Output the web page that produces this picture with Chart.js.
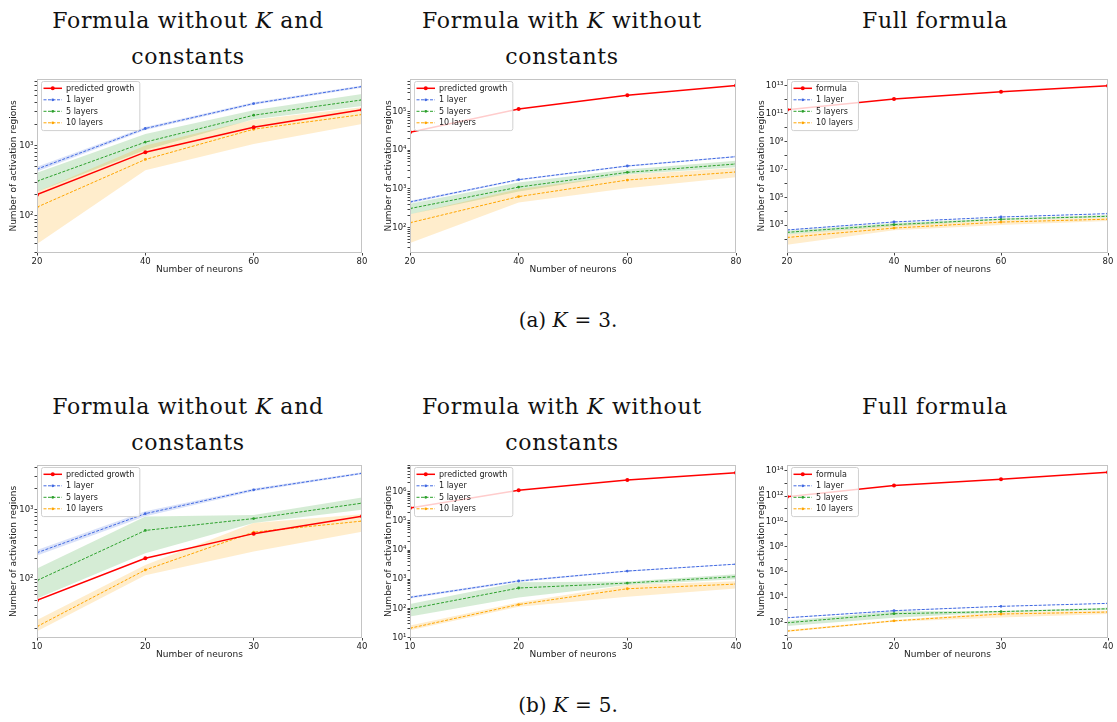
<!DOCTYPE html>
<html>
<head>
<meta charset="utf-8">
<script src="https://cdn.jsdelivr.net/npm/chart.js@4.4.1/dist/chart.umd.min.js"></script>
<style>
  html, body { margin: 0; padding: 0; background: #fff; }
  body { width: 1117px; height: 722px; position: relative; overflow: hidden; }
  .title, .caption {
    position: absolute; width: 400px; text-align: center; white-space: nowrap;
    font-family: "DejaVu Serif", serif; line-height: 36px; color: #111;
  }
  .title { font-size: 22px; letter-spacing: 0.7px; }
  .caption { font-size: 20px; }
  .caption .eq { margin: 0 7px; }
  canvas { position: absolute; }
</style>
</head>
<body>
<div class="title" style="left:-12px; top:2.7px">Formula without <i>K</i> and<br>constants</div>
<div class="title" style="left:362px; top:2.7px">Formula with <i>K</i> without<br>constants</div>
<div class="title" style="left:735px; top:2.7px">Full formula</div>
<div class="caption" style="left:368px; top:302px">(a) <i>K</i><span class="eq">=</span>3.</div>

<div class="title" style="left:-12px; top:388.7px">Formula without <i>K</i> and<br>constants</div>
<div class="title" style="left:362px; top:388.7px">Formula with <i>K</i> without<br>constants</div>
<div class="title" style="left:735px; top:388.7px">Full formula</div>
<div class="caption" style="left:368px; top:687px">(b) <i>K</i><span class="eq">=</span>5.</div>

<script>
// number of neurons
const xK3 = [20, 40, 60, 80];
const xK5 = [10, 20, 30, 40];

// K = 3, measured regions (mean, lower, upper)
const k3OneLayer = [460, 1730, 3900, 6800];
const k3OneLayerLo = [425, 1650, 3750, 6550];
const k3OneLayerHi = [495, 1810, 4060, 7050];
const k3FiveLayers = [310, 1110, 2670, 4400];
const k3FiveLayersLo = [220, 860, 2340, 3600];
const k3FiveLayersHi = [410, 1450, 3150, 5350];
const k3TenLayers = [133, 630, 1690, 2730];
const k3TenLayersLo = [40, 445, 1040, 2000];
const k3TenLayersHi = [220, 990, 2300, 3450];
// K = 3, formulas
const k3Growth = [200, 800, 1800, 3200];
const k3GrowthK = [29000, 116000, 262000, 466000];
const k3Formula = [1.9e11, 1.1e12, 3.7e12, 1.0e13];

// K = 5, measured regions
const k5OneLayer = [240, 870, 1910, 3290];
const k5OneLayerLo = [218, 800, 1820, 3180];
const k5OneLayerHi = [262, 945, 2000, 3400];
const k5FiveLayers = [96, 500, 740, 1230];
const k5FiveLayersLo = [53, 235, 640, 990];
const k5FiveLayersHi = [142, 790, 830, 1480];
const k5TenLayers = [21, 136, 473, 681];
const k5TenLayersLo = [18, 114, 250, 480];
const k5TenLayersHi = [26, 160, 640, 850];
// K = 5, formulas
const k5Growth = [50, 200, 450, 800];
const k5GrowthK = [277000, 1110000, 2500000, 4450000];
const k5Formula = [8.9e11, 6.9e12, 2.2e13, 7.8e13];

// tick labels
const xTicksK3 = [20, 40, 60, 80];
const xTicksK5 = [10, 20, 30, 40];
const yTicksA1 = [1e2, 1e3];
const yTicksA2 = [1e2, 1e3, 1e4, 1e5];
const yTicksA3 = [1e3, 1e5, 1e7, 1e9, 1e11, 1e13];
const yTicksB1 = [1e2, 1e3];
const yTicksB2 = [1e1, 1e2, 1e3, 1e4, 1e5, 1e6];
const yTicksB3 = [1e2, 1e4, 1e6, 1e8, 1e10, 1e12, 1e14];

const layerNames = ['1 layer', '5 layers', '10 layers'];

const RED = '#ff0000', BLUE = '#4169e1', GREEN = '#2ca02c', ORANGE = '#ffa500';
const FONT = '"DejaVu Sans", sans-serif';

const sup = n => String(n).split('').map(d => '⁰¹²³⁴⁵⁶⁷⁸⁹'[+d]).join('');
const pts = (xs, ys) => xs.map((x, i) => ({ x: x, y: ys[i] }));

// legend box in upper left, drawn over the data like matplotlib
const boxLegend = {
  id: 'boxLegend',
  afterDraw(chart, args, opts) {
    const ctx = chart.ctx, a = chart.chartArea;
    const items = opts.items;
    ctx.save();
    ctx.font = '8px ' + FONT;
    const textW = Math.max(...items.map(it => ctx.measureText(it.label).width));
    const x0 = a.left + 4, y0 = a.top + 2, rowH = 11.5;
    const w = 25 + textW + 5, h = 14.6 + (items.length - 1) * rowH;
    ctx.beginPath();
    ctx.roundRect(x0 + 0.5, y0 + 0.5, w, h, 2);
    ctx.fillStyle = 'rgba(255,255,255,0.8)';
    ctx.fill();
    ctx.strokeStyle = '#d0d0d0';
    ctx.lineWidth = 1;
    ctx.stroke();
    items.forEach((it, i) => {
      const y = y0 + 7.3 + i * rowH;
      ctx.strokeStyle = it.color;
      ctx.lineWidth = it.width;
      ctx.setLineDash(it.dash);
      ctx.beginPath();
      ctx.moveTo(x0 + 2.5, y);
      ctx.lineTo(x0 + 21, y);
      ctx.stroke();
      ctx.setLineDash([]);
      ctx.fillStyle = it.color;
      ctx.beginPath();
      ctx.arc(x0 + 11.75, y, it.radius, 0, Math.PI * 2);
      ctx.fill();
      ctx.fillStyle = '#222';
      ctx.textBaseline = 'middle';
      ctx.fillText(it.label, x0 + 25, y + 0.5);
    });
    ctx.restore();
  }
};

// light grey frame round the plot area
const frame = {
  id: 'frame',
  afterDatasetsDraw(chart) {
    const ctx = chart.ctx, a = chart.chartArea;
    ctx.save();
    ctx.strokeStyle = '#c4c4c4';
    ctx.lineWidth = 1;
    ctx.strokeRect(a.left + 0.5, a.top + 0.5, a.width - 1, a.height - 1);
    ctx.restore();
  }
};

function makePanel(p) {
  const padTop = 4, padRight = 8, xAxisH = 22;
  const axisW = Math.round(p.yTitleGap + 5.4);
  const [l, t, r, b] = p.box;
  const canvas = document.createElement('canvas');
  canvas.width = (r - l) + axisW + padRight;
  canvas.height = (b - t) + padTop + xAxisH;
  canvas.style.left = (l - axisW) + 'px';
  canvas.style.top = (t - padTop) + 'px';
  canvas.style.width = canvas.width + 'px';
  canvas.style.height = canvas.height + 'px';
  document.body.appendChild(canvas);

  // all ticks: labelled decades plus unlabelled minor ones
  const lo = Math.floor(Math.log10(p.yMin)), hi = Math.ceil(Math.log10(p.yMax));
  const yAll = [];
  for (let e = lo; e <= hi; e++) {
    const subs = p.decadeMinors ? [1] : [1, 2, 3, 4, 5, 6, 7, 8, 9];
    subs.forEach(s => {
      const v = s * Math.pow(10, e);
      if (v >= p.yMin && v <= p.yMax) yAll.push(v);
    });
  }
  const isLabelled = v => p.yTicks.some(m => Math.abs(Math.log10(v) - Math.log10(m)) < 1e-6);

  const band = (lo, hi, rgba) => [
    { data: pts(p.x, lo), borderWidth: 0, pointRadius: 0, fill: false, order: 10 },
    { data: pts(p.x, hi), borderWidth: 0, pointRadius: 0, fill: '-1', backgroundColor: rgba, order: 10 }
  ];
  const dashed = (ys, color, order) => ({
    data: pts(p.x, ys), borderColor: color, borderWidth: 1, borderDash: [3, 1.5],
    pointRadius: 1.4, pointBackgroundColor: color, pointBorderWidth: 0, fill: false, order: order
  });

  const datasets = [
    ...band(p.tenLo, p.tenHi, 'rgba(255,165,0,0.2)'),
    ...band(p.fiveLo, p.fiveHi, 'rgba(44,160,44,0.2)'),
    ...band(p.oneLo, p.oneHi, 'rgba(65,105,225,0.2)'),
    dashed(p.ten, ORANGE, 3),
    dashed(p.five, GREEN, 2),
    dashed(p.one, BLUE, 1),
    {
      data: pts(p.x, p.red), borderColor: RED, borderWidth: 1.5, pointRadius: 2,
      pointBackgroundColor: RED, pointBorderWidth: 0, fill: false, order: 0
    }
  ];

  new Chart(canvas, {
    type: 'line',
    data: { datasets: datasets },
    plugins: [frame, boxLegend],
    options: {
      responsive: false,
      animation: false,
      devicePixelRatio: 1,
      events: [],
      elements: { line: { tension: 0 } },
      layout: { padding: { left: 0, top: padTop, right: padRight, bottom: 0 } },
      plugins: {
        legend: { display: false },
        tooltip: { enabled: false },
        boxLegend: {
          items: [
            { label: p.redName, color: RED, width: 1.5, dash: [], radius: 2 },
            { label: layerNames[0], color: BLUE, width: 1, dash: [3, 1.5], radius: 1.4 },
            { label: layerNames[1], color: GREEN, width: 1, dash: [3, 1.5], radius: 1.4 },
            { label: layerNames[2], color: ORANGE, width: 1, dash: [3, 1.5], radius: 1.4 }
          ]
        }
      },
      scales: {
        x: {
          type: 'linear',
          min: p.xTicks[0],
          max: p.xTicks[p.xTicks.length - 1],
          bounds: 'data',
          afterBuildTicks: s => { s.ticks = p.xTicks.map(v => ({ value: v })); },
          afterFit: s => { s.height = xAxisH; s.paddingLeft = 0; s.paddingRight = 0; },
          ticks: { font: { family: FONT, size: 8.5 }, color: '#222', padding: 1, maxRotation: 0, autoSkip: false },
          grid: { drawOnChartArea: false, drawTicks: true, tickLength: 2.5, tickColor: '#444' },
          border: { display: false },
          title: { display: true, text: 'Number of neurons', font: { family: FONT, size: 9 }, color: '#222', padding: 0 }
        },
        y: {
          type: 'logarithmic',
          min: p.yMin,
          max: p.yMax,
          bounds: 'data',
          afterBuildTicks: s => { s.ticks = yAll.map(v => ({ value: v })); },
          afterFit: s => { s.width = axisW; s.paddingTop = 0; s.paddingBottom = 0; },
          ticks: {
            font: { family: FONT, size: 8.5 }, color: '#222', padding: 1, autoSkip: false,
            callback: v => isLabelled(v) ? '10' + sup(Math.round(Math.log10(v))) : ''
          },
          grid: { drawOnChartArea: false, drawTicks: true, tickLength: 2.5, tickColor: '#444' },
          border: { display: false },
          title: { display: true, text: 'Number of activation regions', font: { family: FONT, size: 9 }, color: '#222', padding: 0 }
        }
      }
    }
  });
}

const k3Layers = {
  one: k3OneLayer, oneLo: k3OneLayerLo, oneHi: k3OneLayerHi,
  five: k3FiveLayers, fiveLo: k3FiveLayersLo, fiveHi: k3FiveLayersHi,
  ten: k3TenLayers, tenLo: k3TenLayersLo, tenHi: k3TenLayersHi
};
const k5Layers = {
  one: k5OneLayer, oneLo: k5OneLayerLo, oneHi: k5OneLayerHi,
  five: k5FiveLayers, fiveLo: k5FiveLayersLo, fiveHi: k5FiveLayersHi,
  ten: k5TenLayers, tenLo: k5TenLayersLo, tenHi: k5TenLayersHi
};

makePanel({ box: [37, 79, 362, 253], yTitleGap: 24, x: xK3, xTicks: xTicksK3, yMin: 29.8, yMax: 8700,
  yTicks: yTicksA1, redName: 'predicted growth', red: k3Growth, ...k3Layers });
makePanel({ box: [410, 79, 736, 253], yTitleGap: 22, x: xK3, xTicks: xTicksK3, yMin: 22, yMax: 6.9e5,
  yTicks: yTicksA2, redName: 'predicted growth', red: k3GrowthK, ...k3Layers });
makePanel({ box: [787, 79, 1108, 253], yTitleGap: 26, x: xK3, xTicks: xTicksK3, yMin: 10.3, yMax: 3.0e13,
  yTicks: yTicksA3, decadeMinors: true, redName: 'formula', red: k3Formula, ...k3Layers });

makePanel({ box: [37, 465, 362, 638], yTitleGap: 24, x: xK5, xTicks: xTicksK5, yMin: 14.4, yMax: 4330,
  yTicks: yTicksB1, redName: 'predicted growth', red: k5Growth, ...k5Layers });
makePanel({ box: [410, 465, 736, 638], yTitleGap: 22, x: xK5, xTicks: xTicksK5, yMin: 9.7, yMax: 8.2e6,
  yTicks: yTicksB2, redName: 'predicted growth', red: k5GrowthK, ...k5Layers });
makePanel({ box: [787, 465, 1108, 638], yTitleGap: 26, x: xK5, xTicks: xTicksK5, yMin: 6, yMax: 2.9e14,
  yTicks: yTicksB3, decadeMinors: true, redName: 'formula', red: k5Formula, ...k5Layers });
</script>
</body>
</html>
